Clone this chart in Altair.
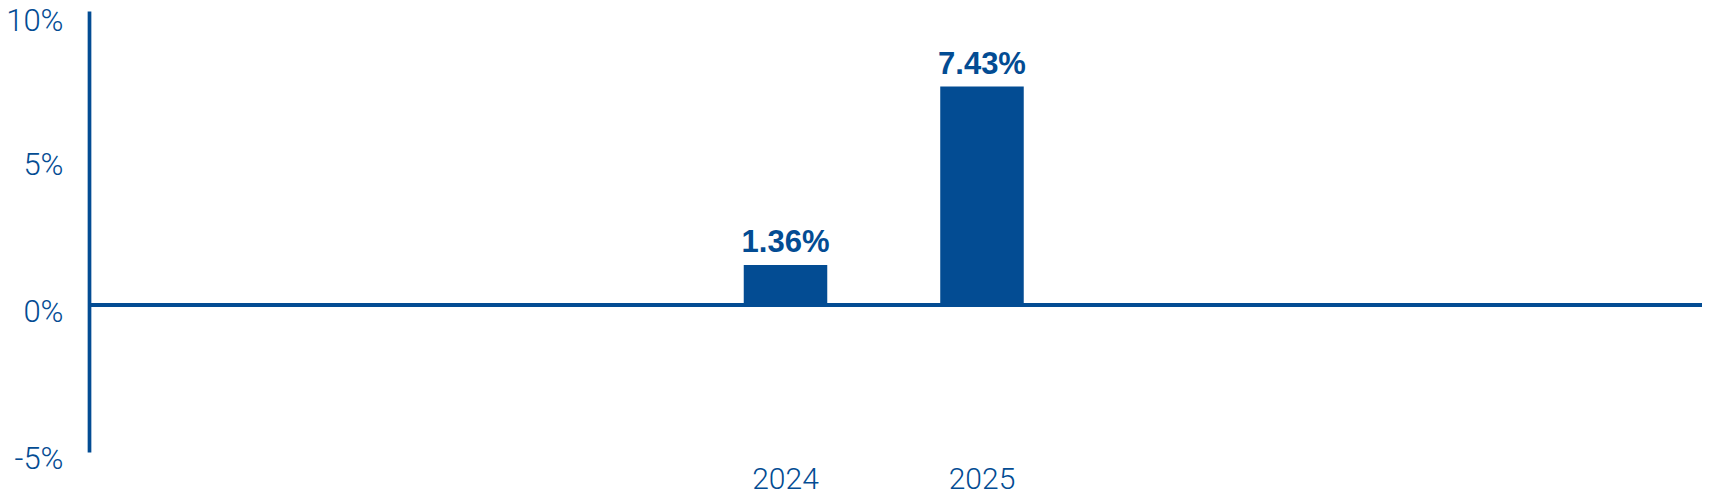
import altair as alt
import pandas as pd

# ---- data ----
years = ["2024", "2025"]
returns = [1.36, 7.43]
value_labels = ["1.36%", "7.43%"]
year_domain = ["2021", "2022", "2023", "2024", "2025", "2026", "2027", "2028"]
y_ticks = [-5, 0, 5, 10]

BLUE = "#034c93"
W, H = 1613, 441

df = pd.DataFrame({"year": years, "ret": returns, "label": value_labels})
zero_df = pd.DataFrame({"ret": [0]})

x_enc = alt.X(
    "year:N",
    scale=alt.Scale(domain=year_domain, paddingInner=0.575, paddingOuter=0.392, align=0.4237),
    axis=alt.Axis(
        values=years, domain=False, ticks=False, tickSize=0, grid=False,
        labelAngle=0, labelFont="Roboto", labelFontWeight=300, labelFontSize=30,
        labelColor=BLUE, labelPadding=12, title=None,
    ),
)
y_enc = alt.Y(
    "ret:Q",
    scale=alt.Scale(domain=[-5, 10], nice=False, zero=False),
    axis=alt.Axis(
        values=y_ticks, labelExpr="datum.value + '%'",
        domain=True, domainColor=BLUE, domainWidth=3.7,
        ticks=False, tickSize=0, grid=False,
        labelFont="Roboto", labelFontWeight=300, labelFontSize=31, labelColor=BLUE,
        labelBaseline="alphabetic",
        labelOffset={"condition": {"test": "datum.value == 10", "value": 19}, "value": 16},
        labelPadding=26, labelAlign="right",
        labelFlush=False, title=None,
    ),
)

bars = alt.Chart(df).mark_bar(color=BLUE).encode(x=x_enc, y=y_enc)

rule = alt.Chart(zero_df).mark_rule(color=BLUE, strokeWidth=4).encode(
    y=alt.Y("ret:Q"), x=alt.value(0), x2=alt.value(W)
)

text = alt.Chart(df).mark_text(
    font="Liberation Sans", fontWeight="bold", fontSize=31, color=BLUE,
    baseline="alphabetic", align="center", dy=-13,
).encode(x=alt.X("year:N"), y=alt.Y("ret:Q"), text="label:N")

chart = alt.layer(bars, rule, text).properties(
    width=W, height=H,
    padding={"left": 81, "top": 3, "right": 0, "bottom": 44},
    autosize=alt.AutoSizeParams(type="none"),
).configure_view(stroke=None)

chart.save("out.html", embed_options={"renderer": "svg", "actions": False})
